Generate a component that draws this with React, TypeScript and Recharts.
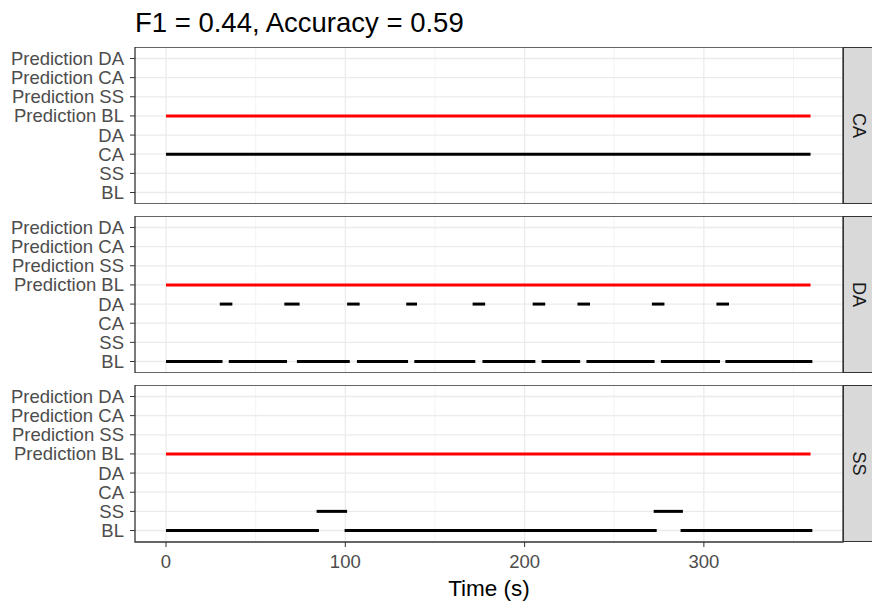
import React from "react";
import {
  LineChart,
  Line,
  XAxis,
  YAxis,
  CartesianGrid,
  ReferenceArea,
} from "recharts";

// ---------- data ----------
const categories = [
  "BL",
  "SS",
  "CA",
  "DA",
  "Prediction BL",
  "Prediction SS",
  "Prediction CA",
  "Prediction DA",
];
const xTicks = [0, 100, 200, 300];
const xMinor = [50, 150, 250, 350];
const titleText = "F1 = 0.44, Accuracy = 0.59";
const xLabel = "Time (s)";

// panel "CA"
const caTruthCA = [[0, 359.5]];
const caPredBL = [[0, 359.5]];

// panel "DA"
const daTruthBL = [
  [0, 31.5],
  [35, 67.5],
  [73, 102.5],
  [106.5, 135],
  [138.5, 172.5],
  [176.5, 206],
  [209.5, 231],
  [234.5, 272.5],
  [276, 309],
  [312, 360.5],
];
const daTruthDA = [
  [30, 37],
  [66, 74.5],
  [101, 108],
  [134, 140],
  [171, 178],
  [204.5, 211.5],
  [229.5, 236.5],
  [271, 278],
  [307, 314],
];
const daPredBL = [[0, 359.5]];

// panel "SS"
const ssTruthBL = [
  [0, 85.3],
  [99.6, 273.7],
  [287, 360.5],
];
const ssTruthSS = [
  [84, 101],
  [272, 288.3],
];
const ssPredBL = [[0, 359.5]];

type SegGroup = { cat: string; color: string; segs: number[][] };

const panels: { label: string; groups: SegGroup[] }[] = [
  {
    label: "CA",
    groups: [
      { cat: "CA", color: "#000000", segs: caTruthCA },
      { cat: "Prediction BL", color: "#FF0000", segs: caPredBL },
    ],
  },
  {
    label: "DA",
    groups: [
      { cat: "BL", color: "#000000", segs: daTruthBL },
      { cat: "DA", color: "#000000", segs: daTruthDA },
      { cat: "Prediction BL", color: "#FF0000", segs: daPredBL },
    ],
  },
  {
    label: "SS",
    groups: [
      { cat: "BL", color: "#000000", segs: ssTruthBL },
      { cat: "SS", color: "#000000", segs: ssTruthSS },
      { cat: "Prediction BL", color: "#FF0000", segs: ssPredBL },
    ],
  },
];

// ---------- layout ----------
const W = 872;
const PANEL_LEFT = 135;
const PANEL_RIGHT = 843;
const PANEL_H = 157;
const PANEL_TOPS = [47, 216, 385];
const XAXIS_H = 62;
const X_DOMAIN: [number, number] = [-17.3, 377.6];
const Y_DOMAIN: [number, number] = [-0.6, 7.6];
const yTicks = categories.map((_, i) => i);

function Panel({ idx }: { idx: number }) {
  const p = panels[idx];
  const isLast = idx === panels.length - 1;
  const h = PANEL_H + (isLast ? XAXIS_H : 0);
  return (
    <div style={{ position: "absolute", left: 0, top: PANEL_TOPS[idx] }}>
      <LineChart
        width={W}
        height={h}
        margin={{ top: 0, right: W - PANEL_RIGHT, bottom: 0, left: 0 }}
      >
        <XAxis
          type="number"
          dataKey="t"
          domain={X_DOMAIN}
          ticks={xTicks}
          allowDataOverflow
          hide={!isLast}
          height={isLast ? XAXIS_H : 0}
          interval={0}
          tickSize={5}
          tickMargin={8}
          axisLine={false}
          tickLine={{ stroke: "#333333" }}
          tick={{ fill: "#4D4D4D", fontSize: 18.5 }}
          label={
            isLast
              ? {
                  value: xLabel,
                  position: "insideBottom",
                  offset: 8,
                  fill: "#000000",
                  fontSize: 22.5,
                }
              : undefined
          }
        />
        <YAxis
          type="number"
          dataKey="v"
          domain={Y_DOMAIN}
          ticks={yTicks}
          allowDataOverflow
          interval={0}
          width={PANEL_LEFT}
          tickSize={5}
          tickMargin={6}
          axisLine={false}
          tickLine={{ stroke: "#333333" }}
          tick={{ fill: "#4D4D4D", fontSize: 18.5 }}
          tickFormatter={(v: number) => categories[v] ?? ""}
        />
        <CartesianGrid
          stroke="#F0F0F0"
          strokeWidth={0.8}
          horizontal={false}
          verticalValues={xMinor}
        />
        <CartesianGrid
          stroke="#EBEBEB"
          strokeWidth={1.3}
          verticalValues={xTicks}
          horizontalValues={yTicks}
        />
        {p.groups.map((g, gi) =>
          g.segs.map((s, si) => (
            <Line
              key={`${gi}-${si}`}
              data={[
                { t: s[0], v: categories.indexOf(g.cat) },
                { t: s[1], v: categories.indexOf(g.cat) },
              ]}
              dataKey="v"
              stroke={g.color}
              strokeWidth={3}
              dot={false}
              activeDot={false}
              isAnimationActive={false}
              strokeLinecap="butt"
            />
          ))
        )}
        <ReferenceArea
          x1={X_DOMAIN[0]}
          x2={X_DOMAIN[1]}
          y1={Y_DOMAIN[0]}
          y2={Y_DOMAIN[1]}
          fill="none"
          stroke="#333333"
          strokeWidth={1.3}
          ifOverflow="visible"
        />
      </LineChart>
      <div
        style={{
          position: "absolute",
          left: PANEL_RIGHT,
          top: 0,
          width: W - PANEL_RIGHT + 2,
          height: PANEL_H,
          boxSizing: "border-box",
          background: "#D9D9D9",
          border: "1.3px solid #333333",
          display: "flex",
          alignItems: "center",
          justifyContent: "center",
        }}
      >
        <span
          style={{
            display: "inline-block",
            transform: "rotate(90deg)",
            fontSize: 18,
            color: "#1A1A1A",
            whiteSpace: "nowrap",
          }}
        >
          {p.label}
        </span>
      </div>
    </div>
  );
}

export default function App() {
  return (
    <div
      style={{
        position: "absolute",
        left: 0,
        top: 0,
        width: W,
        height: 604,
        overflow: "hidden",
        background: "#FFFFFF",
        fontFamily: "'Liberation Sans', Arial, sans-serif",
      }}
    >
      <div
        style={{
          position: "absolute",
          left: PANEL_LEFT,
          top: 9,
          fontSize: 27.5,
          lineHeight: 1,
          color: "#000000",
          whiteSpace: "nowrap",
        }}
      >
        {titleText}
      </div>
      {panels.map((_, i) => (
        <Panel key={i} idx={i} />
      ))}
    </div>
  );
}
